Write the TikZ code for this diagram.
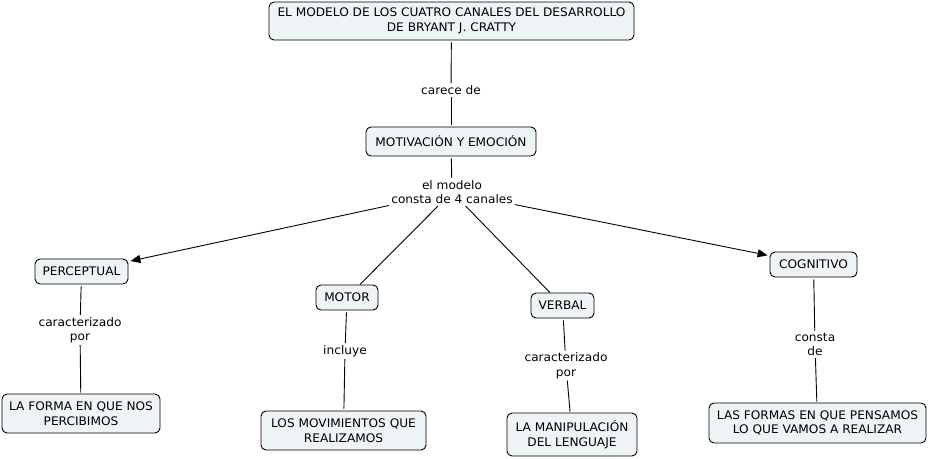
\documentclass[tikz,border=0pt]{standalone}
\usepackage{fontspec}
\setmainfont{DejaVu Sans}[FakeStretch=1.03]
\usetikzlibrary{arrows.meta}
\definecolor{boxfill}{HTML}{EEF4F6}
\tikzset{
  concept/.style={draw=black, line width=0.9pt, fill=boxfill, rounded corners=5pt,
    inner sep=0pt, align=center, font=\fontsize{11.8}{14.5}\selectfont},
  linklabel/.style={inner sep=2pt, align=center, font=\fontsize{11.8}{14.5}\selectfont},
  conn/.style={draw=black, line width=0.9pt},
  arr/.style={conn, -{Triangle[length=10pt,width=8pt]}}
}
\begin{document}
\begin{tikzpicture}[x=1pt,y=-1pt]
\useasboundingbox (0,0) rectangle (929,458);
% concepts
\node[concept, minimum width=365pt, minimum height=38pt] (top) at (451.5,21) {EL MODELO DE LOS CUATRO CANALES DEL DESARROLLO\\DE BRYANT J. CRATTY};
\node[concept, minimum width=170pt, minimum height=29pt] (mot) at (451,141.5) {MOTIVACIÓN Y EMOCIÓN};
\node[concept, minimum width=93pt, minimum height=25pt] (per) at (81.5,271.5) {PERCEPTUAL};
\node[concept, minimum width=62pt, minimum height=25pt] (moto) at (347,297.5) {MOTOR};
\node[concept, minimum width=63pt, minimum height=25pt] (verb) at (562.5,305.5) {VERBAL};
\node[concept, minimum width=87pt, minimum height=25pt] (cog) at (813.5,264.5) {COGNITIVO};
\node[concept, minimum width=158pt, minimum height=39pt] (forma) at (81,413.5) {LA FORMA EN QUE NOS\\PERCIBIMOS};
\node[concept, minimum width=165pt, minimum height=39pt] (movs) at (343.5,430.5) {LOS MOVIMIENTOS QUE\\REALIZAMOS};
\node[concept, minimum width=130pt, minimum height=43pt] (manip) at (572,434.5) {LA MANIPULACIÓN\\DEL LENGUAJE};
\node[concept, minimum width=217pt, minimum height=40pt] (formas) at (817.5,423) {LAS FORMAS EN QUE PENSAMOS\\LO QUE VAMOS A REALIZAR};
% link labels
\node[linklabel] (l1) at (451,90) {carece de};
\node[linklabel] (l2) at (452,192) {el modelo\\consta de 4 canales};
\node[linklabel] (l3) at (80,330) {caracterizado\\por};
\node[linklabel] (l4) at (345,351) {incluye};
\node[linklabel] (l5) at (566,365.5) {caracterizado\\por};
\node[linklabel] (l6) at (815,344.5) {consta\\de};
% connectors
\draw[conn, shorten <=2pt] (top) -- (l1);
\draw[conn, shorten >=2pt] (l1) -- (mot);
\draw[conn, shorten <=2pt] (mot) -- (l2);
\draw[arr, shorten >=2pt] (l2) -- (per);
\draw[conn] (l2) -- (moto);
\draw[conn] (l2) -- (verb);
\draw[arr, shorten >=2pt] (l2) -- (cog);
\draw[conn, shorten <=2pt] (per) -- (l3);
\draw[conn, shorten >=1pt] (l3) -- (forma);
\draw[conn, shorten <=2pt] (moto) -- (l4);
\draw[conn, shorten >=2pt] (l4) -- (movs);
\draw[conn, shorten <=2pt] (verb) -- (l5);
\draw[conn, shorten >=1pt] (l5) -- (manip);
\draw[conn, shorten <=2pt] (cog) -- (l6);
\draw[conn, shorten >=1pt] (l6) -- (formas);
\end{tikzpicture}
\end{document}
